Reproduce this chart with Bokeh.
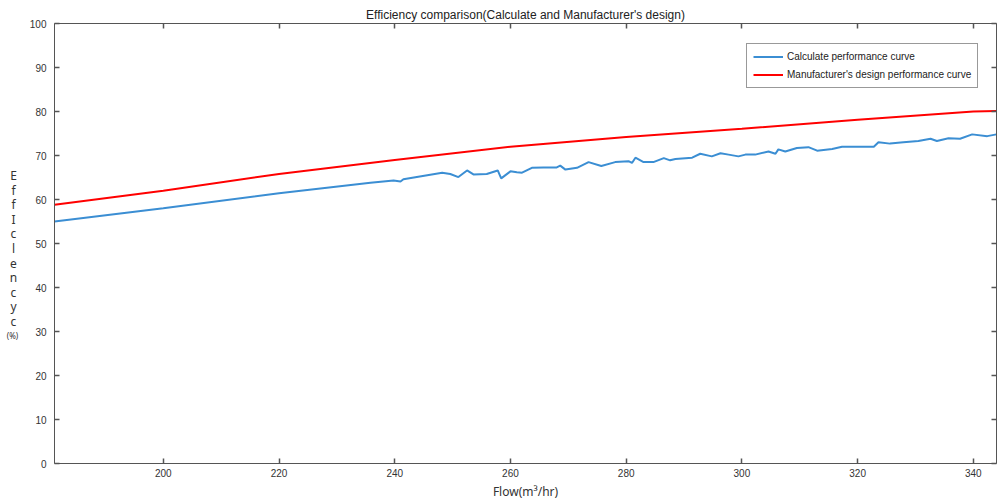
from bokeh.plotting import figure
from bokeh.layouts import row
from bokeh.models import Range1d, LinearAxis, Legend, LegendItem, FixedTicker
from bokeh.core.properties import value
from bokeh.embed import file_html
from bokeh.resources import INLINE

# Calculated performance curve (flow m3/hr, efficiency %)
calc_flow = [181.2, 200.0, 220.0, 235.8, 239.8, 241.0, 241.5, 248.2, 249.6, 251.0,
             252.5, 253.6, 255.9, 257.8, 258.4, 260.0, 261.1, 262.0, 263.7, 265.7,
             268.0, 268.6, 269.5, 271.5, 273.5, 275.7, 278.1, 280.4, 281.0, 281.6,
             283.0, 284.7, 286.5, 287.6, 288.5, 291.4, 292.8, 294.8, 296.3, 297.7,
             299.4, 300.6, 302.3, 304.6, 305.8, 306.3, 307.5, 309.5, 311.5, 313.0,
             315.6, 317.3, 322.8, 323.6, 325.6, 327.9, 330.5, 332.6, 333.7, 335.7,
             337.7, 339.8, 342.4, 344.0]
calc_eff = [55.0, 58.0, 61.4, 63.8, 64.3, 64.1, 64.6, 66.1, 65.8, 65.1,
            66.6, 65.7, 65.8, 66.6, 64.8, 66.4, 66.2, 66.1, 67.2, 67.3,
            67.3, 67.7, 66.8, 67.2, 68.5, 67.6, 68.5, 68.7, 68.3, 69.5,
            68.5, 68.5, 69.4, 68.9, 69.2, 69.5, 70.4, 69.8, 70.5, 70.2,
            69.8, 70.2, 70.2, 70.9, 70.4, 71.4, 70.9, 71.7, 71.9, 71.1,
            71.5, 72.0, 72.0, 73.0, 72.7, 73.0, 73.3, 73.8, 73.3, 73.9,
            73.8, 74.8, 74.4, 74.8]

# Manufacturer's design performance curve
mfr_flow = [181.2, 200.0, 220.0, 240.0, 260.0, 280.0, 300.0, 320.0, 340.0, 344.0]
mfr_eff = [58.8, 62.0, 65.8, 69.0, 72.0, 74.2, 76.1, 78.1, 80.0, 80.1]

x_ticks = [200, 220, 240, 260, 280, 300, 320, 340]
y_ticks = [0, 10, 20, 30, 40, 50, 60, 70, 80, 90, 100]

title_text = "Efficiency comparison(Calculate and Manufacturer's design)"
x_label = "Flow(m\u00b3/hr)"
y_letters = ["E", "f", "f", "I", "c", "l", "e", "n", "c", "y", "c"]
y_unit = "(%)"

AX = "#555555"
FONT = "Liberation Sans"
W, H = 998, 503
LBL_W = 20
FRAME_TOP, FRAME_BOTTOM = 23, 463

# ---- narrow strip holding the stacked y-axis label ----
# (its frame is aligned with the main frame by the row layout, so its
#  y range is expressed in page pixel rows of that frame)
lab = figure(width=LBL_W, height=H, output_backend="svg", toolbar_location=None,
             x_range=Range1d(0, LBL_W), y_range=Range1d(FRAME_BOTTOM, FRAME_TOP),
             x_axis_location=None, y_axis_location=None,
             min_border_left=0, min_border_right=0, min_border_top=FRAME_TOP,
             min_border_bottom=H - FRAME_BOTTOM, background_fill_color="white",
             border_fill_color="white")
lab.outline_line_color = None
lab.grid.visible = False
ly = [175 + 14.6 * i for i in range(len(y_letters))]
lab.text(x=[13] * len(y_letters), y=ly, text=y_letters, text_align="center",
         text_baseline="middle", text_font=value("Noto Sans"),
         text_font_size="12px", text_color="#333333")
lab.text(x=[12], y=[335], text=[y_unit], text_align="center",
         text_baseline="middle", text_font=value("Noto Sans"),
         text_font_size="8px", text_color="#333333")

# ---- main chart ----
p = figure(width=W - LBL_W, height=H, output_backend="svg", toolbar_location=None,
           x_range=Range1d(181.2, 344.0), y_range=Range1d(0, 100),
           min_border_left=54 - LBL_W, min_border_right=2,
           min_border_top=FRAME_TOP, min_border_bottom=H - FRAME_BOTTOM,
           background_fill_color="white", border_fill_color="white")
p.outline_line_color = None
p.xgrid.visible = False
p.ygrid.visible = False

p.title.text = title_text
p.title.align = "center"
p.title.text_font = FONT
p.title.text_font_size = "12px"
p.title.text_font_style = "normal"
p.title.text_color = "#222222"
p.title.standoff = 4
p.title.offset = 0

bottom = p.below[0]
left = p.left[0]
top = LinearAxis()
right = LinearAxis()
p.add_layout(top, "above")
p.add_layout(right, "right")

for ax in [bottom, top]:
    ax.ticker = FixedTicker(ticks=x_ticks)
for ax in [left, right]:
    ax.ticker = FixedTicker(ticks=y_ticks)

for ax in [bottom, left, top, right]:
    ax.axis_line_color = AX
    ax.axis_line_width = 1
    ax.major_tick_line_color = AX
    ax.major_tick_line_width = 1.5
    ax.major_tick_in = 5
    ax.major_tick_out = 0
    ax.minor_tick_line_color = None
    ax.major_label_text_font = FONT
    ax.major_label_text_font_size = "10px"
    ax.major_label_text_color = "#333333"

for ax in [top, right]:
    ax.major_label_text_color = None
    ax.major_label_text_font_size = "0px"
    ax.major_label_standoff = 0

bottom.major_label_standoff = 5
left.major_label_standoff = 8
bottom.axis_label = x_label
bottom.axis_label_standoff = 3
bottom.axis_label_text_font = "Noto Sans"
bottom.axis_label_text_font_size = "12px"
bottom.axis_label_text_font_style = "normal"
bottom.axis_label_text_color = "#333333"

r_calc = p.line(calc_flow, calc_eff, line_color="#3b8ed3", line_width=2)
r_mfr = p.line(mfr_flow, mfr_eff, line_color="#ff0000", line_width=2)

legend = Legend(items=[
    LegendItem(label="Calculate performance curve", renderers=[r_calc]),
    LegendItem(label="Manufacturer's design performance curve", renderers=[r_mfr]),
], location=(692, 375))
legend.label_text_font = FONT
legend.label_text_font_size = "10px"
legend.label_text_color = "#222222"
legend.glyph_width = 30
legend.glyph_height = 13
legend.label_height = 13
legend.label_standoff = 4
legend.spacing = 5
legend.padding = 6
legend.margin = 0
legend.border_line_color = "#333333"
legend.border_line_width = 1
legend.background_fill_color = "white"
legend.background_fill_alpha = 1
p.add_layout(legend)

layout = row(lab, p, spacing=0)
open("out.html", "w").write(file_html(layout, INLINE))
